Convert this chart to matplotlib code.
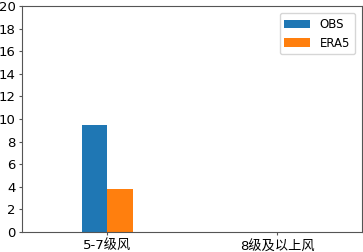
import numpy as np
import matplotlib
matplotlib.use("Agg")
import matplotlib.pyplot as plt

plt.rcParams['font.family'] = ['DejaVu Sans', 'Noto Sans CJK SC']

categories = ["5-7级风", "8级及以上风"]
obs = [9.5, 0]
era5 = [3.8, 0]

fig = plt.figure(figsize=(3.63, 2.52), dpi=100)
ax = fig.add_axes([22 / 363, 20 / 252, 340 / 363, 226 / 252])

x = np.arange(len(categories))
w = 0.15
ax.bar(x - w / 2, obs, width=w, color="#1f77b4", label="OBS")
ax.bar(x + w / 2, era5, width=w, color="#ff7f0e", label="ERA5")

ax.set_xlim(-0.5, 1.5)
ax.set_ylim(0, 20)
ax.set_yticks(range(0, 21, 2))
ax.set_xticks(x)
ax.set_xticklabels(categories)
ax.tick_params(labelsize=9.5, length=2.5, pad=2, color="#555555")
ax.tick_params(axis="x", pad=3.5)
for s in ax.spines.values():
    s.set_color("#555555")
ax.legend(fontsize=8.5, loc="upper right", handlelength=2.2, borderaxespad=0.6)

fig.savefig("out.png", dpi=100)
